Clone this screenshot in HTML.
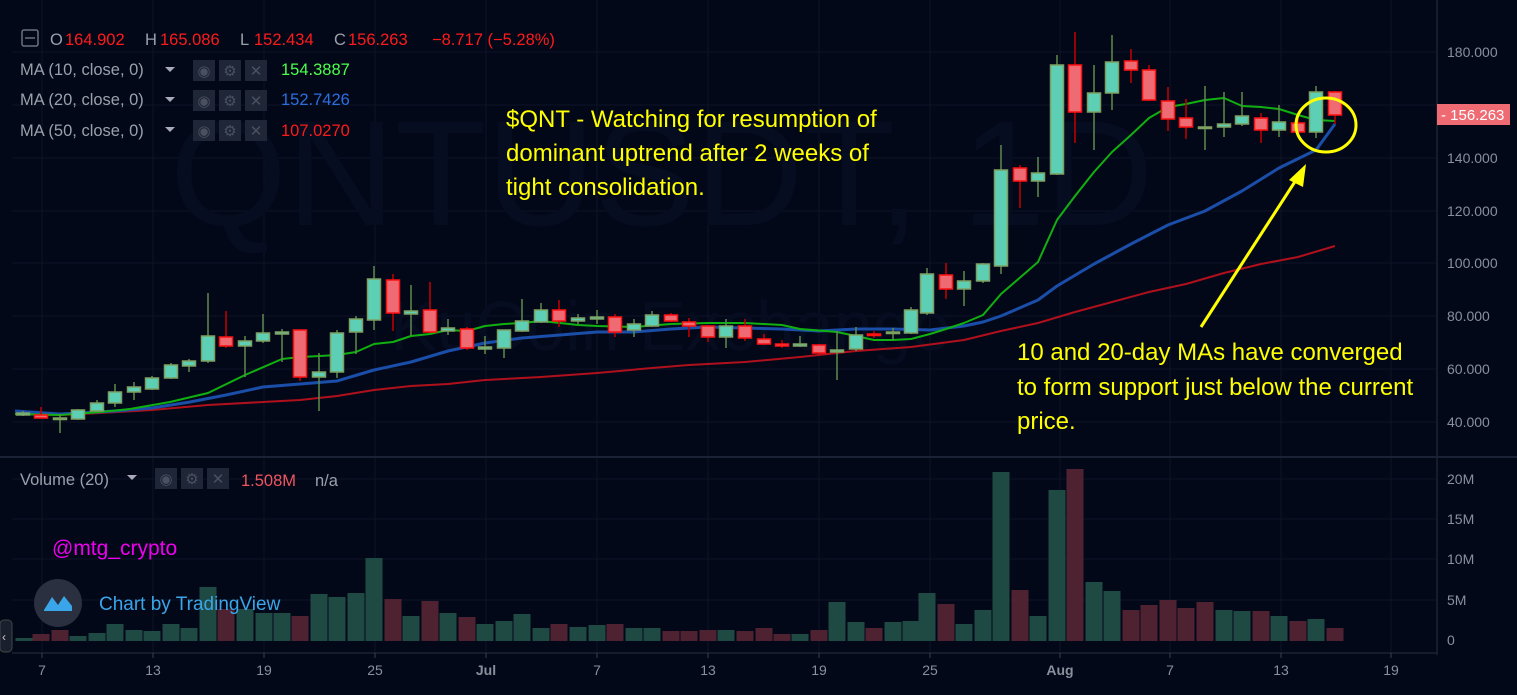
<!DOCTYPE html>
<html><head><meta charset="utf-8"><style>
html,body{margin:0;padding:0;background:#030819;width:1517px;height:695px;overflow:hidden}
svg{display:block}
text{font-family:"Liberation Sans",sans-serif}
</style></head><body>
<svg id="s" width="1517" height="695" xmlns="http://www.w3.org/2000/svg">
<rect width="1517" height="695" fill="#030819"/>
<g id="grid"></g>
<text x="170" y="225" font-size="150" fill="#070d21" font-family="Liberation Sans">QNTUSDT, 1D</text>
<text x="390" y="350" font-size="70" fill="#070d21">KuCoin Exchange</text>
<g id="vol"></g>
<g id="ma"></g>
<g id="cd"></g>
<line x1="0" y1="457" x2="1517" y2="457" fill="none" stroke="#1c2236" stroke-width="2"/>
<line x1="1437" y1="0" x2="1437" y2="655" stroke="#1c2236" stroke-width="1.5"/>
<line x1="12" y1="653" x2="1437" y2="653" stroke="#1c2236" stroke-width="1.5"/>
<g id="axis" font-size="14" fill="#8a8f9c"></g>
<rect x="1437" y="104" width="73" height="21" fill="#ee6b73"/>
<text x="1441" y="120" font-size="15" fill="#fff">- 156.263</text>
<rect x="22" y="30" width="16" height="16" fill="none" stroke="#6b7080" stroke-width="1.5" rx="2"/>
<line x1="25" y1="38" x2="35" y2="38" stroke="#6b7080" stroke-width="1.5"/>
<g font-size="16.5">
<text x="50" y="45" fill="#9aa0ab">O</text><text x="65" y="45" fill="#ff1a1a">164.902</text>
<text x="145" y="45" fill="#9aa0ab">H</text><text x="160" y="45" fill="#ff1a1a">165.086</text>
<text x="240" y="45" fill="#9aa0ab">L</text><text x="254" y="45" fill="#ff1a1a">152.434</text>
<text x="334" y="45" fill="#9aa0ab">C</text><text x="348" y="45" fill="#ff1a1a">156.263</text>
<text x="432" y="45" fill="#ff1a1a">−8.717 (−5.28%)</text>
<text x="20" y="75" fill="#9aa0ab">MA (10, close, 0)</text><text x="281" y="75" fill="#4cff4c">154.3887</text>
<text x="20" y="105" fill="#9aa0ab">MA (20, close, 0)</text><text x="281" y="105" fill="#2a6fe0">152.7426</text>
<text x="20" y="136" fill="#9aa0ab">MA (50, close, 0)</text><text x="281" y="136" fill="#ff1a1a">107.0270</text>
<text x="20" y="485" fill="#9aa0ab">Volume (20)</text><text x="241" y="486" fill="#ee5560">1.508M</text><text x="315" y="486" fill="#9aa0ab">n/a</text>
</g>
<g id="icons"></g>
<text x="52" y="555" font-size="21" fill="#ee00ee">@mtg_crypto</text>
<circle cx="58" cy="603" r="24" fill="#2a3040"/>
<path d="M44 610 L52 597 L58 605 L64 596 L72 606 L72 611 L44 611 Z" fill="#3aa5e8"/>
<text x="99" y="610" font-size="19" fill="#3aa5e8">Chart by TradingView</text>
<rect x="0" y="620" width="12" height="32" rx="4" fill="#1a1f2e" stroke="#444"/>
<text x="2" y="641" font-size="12" fill="#ccc">‹</text>
<g font-size="24" fill="#ffff00">
<text x="506" y="127">$QNT - Watching for resumption of</text>
<text x="506" y="161">dominant uptrend after 2 weeks of</text>
<text x="506" y="195">tight consolidation.</text>
<text x="1017" y="360">10 and 20-day MAs have converged</text>
<text x="1017" y="395">to form support just below the current</text>
<text x="1017" y="429">price.</text>
</g>
<line x1="1201" y1="327" x2="1296" y2="180" stroke="#ffff00" stroke-width="3"/>
<polygon points="1306,164 1289,180 1303,187" fill="#ffff00"/>
<ellipse cx="1326" cy="125" rx="30" ry="27" fill="none" stroke="#ffff00" stroke-width="3"/>
</svg>
<script>
const NS="http://www.w3.org/2000/svg";
function el(p,t,a){const e=document.createElementNS(NS,t);for(const k in a)e.setAttribute(k,a[k]);document.getElementById(p).appendChild(e);return e;}
[52,105,158,211,263,316,369,422].forEach(y=>el("grid","line",{x1:12,x2:1437,y1:y,y2:y,stroke:"#0d1426","stroke-width":1}));
[479,519,559,600].forEach(y=>el("grid","line",{x1:12,x2:1437,y1:y,y2:y,stroke:"#0d1426","stroke-width":1}));
const xt=[[42,"7"],[153,"13"],[264,"19"],[375,"25"],[486,"Jul"],[597,"7"],[708,"13"],[819,"19"],[930,"25"],[1060,"Aug"],[1170,"7"],[1281,"13"],[1391,"19"]];
xt.forEach(([x,l])=>{el("grid","line",{x1:x,x2:x,y1:0,y2:653,stroke:"#0d1426","stroke-width":1});
 el("axis","line",{x1:x,x2:x,y1:653,y2:658,stroke:"#3a4050"});
 const t=el("axis","text",{x:x,y:675,"text-anchor":"middle","font-weight":(l=="Jul"||l=="Aug")?"bold":"normal"});t.textContent=l;});
[[52,"180.000"],[158,"140.000"],[211,"120.000"],[263,"100.000"],[316,"80.000"],[369,"60.000"],[422,"40.000"]].forEach(([y,l])=>{const t=el("axis","text",{x:1447,y:y+5});t.textContent=l;});
[[479,"20M"],[519,"15M"],[559,"10M"],[600,"5M"],[640,"0"]].forEach(([y,l])=>{const t=el("axis","text",{x:1447,y:y+5});t.textContent=l;});
[[70],[100],[130],[478]].forEach(([y])=>{const sx=y==478?155:193;for(let i=0;i<3;i++)el("icons","rect",{x:sx+i*26,y:y-10,width:22,height:21,fill:"#1f2638"});
 const g=["◉","⚙","✕"];for(let i=0;i<3;i++){const t=el("icons","text",{x:sx+i*26+11,y:y+6,"text-anchor":"middle","font-size":15,fill:"#4a5060"});t.textContent=g[i];}
 el("icons","polygon",{points:(sx-28)+","+(y-3)+" "+(sx-18)+","+(y-3)+" "+(sx-23)+","+(y+2),fill:"#aab"});});
const C=[[23,415,413,411,416],[41,415,418,407,418],[60,418,418,414,433],[78,419,410,409,420],[97,411,403,400,412],[115,403,392,384,407],[134,392,387,382,400],[152,389,378,376,390],[171,378,365,363,379],[189,366,361,359,372],[208,361,336,293,363],[226,337,346,311,348],[245,346,341,336,377],[263,341,333,314,343],[282,334,332,329,362],[300,330,377,330,381],[319,377,372,353,411],[337,372,333,330,378],[356,332,319,316,354],[374,320,279,266,330],[393,280,313,274,331],[411,314,311,285,336],[430,310,332,282,333],[448,331,328,319,335],[467,329,348,327,350],[485,349,347,336,354],[504,348,330,330,358],[522,331,321,299,332],[541,322,310,303,323],[559,310,321,300,327],[578,321,318,314,324],[597,319,317,310,324],[615,317,332,314,337],[634,330,324,319,337],[652,326,315,311,327],[671,315,321,313,322],[689,322,326,318,337],[708,326,337,325,342],[726,337,326,319,348],[745,326,338,319,341],[764,339,344,334,345],[782,344,346,340,348],[800,346,344,336,347],[819,345,353,344,354],[837,352,350,331,380],[856,349,335,327,351],[874,334,335,331,338],[893,333,332,328,340],[911,333,310,307,334],[927,313,274,268,315],[946,275,289,263,299],[964,289,281,271,306],[983,281,264,263,283],[1001,266,170,145,274],[1020,168,181,165,208],[1038,181,173,157,197],[1057,174,65,55,175],[1075,65,112,32,143],[1094,112,93,65,150],[1112,93,62,35,110],[1131,61,70,49,83],[1149,70,100,65,101],[1168,101,119,87,131],[1186,118,127,99,139],[1205,127,127,86,150],[1224,127,124,92,137],[1242,124,116,92,126],[1261,118,130,113,143],[1279,130,122,105,137],[1298,123,132,114,133],[1316,132,92,86,138],[1335,92,115,91,124]];
C.forEach(([x,o,c,h,l])=>{const up=c<=o;const wc=up?"#5f8a4c":"#c40000";
 el("cd","line",{x1:x,x2:x,y1:h,y2:l,stroke:wc,"stroke-width":1.5});
 const top=Math.min(o,c),bh=Math.max(Math.abs(o-c),1.5);
 el("cd","rect",{x:x-6.5,y:top,width:13,height:bh,fill:up?"#5ccfb5":"#ee6b73",stroke:up?"#7ea060":"#ff1010","stroke-width":1.5});});
const V=[[24,638,1],[41,634,0],[60,630,0],[78,636,1],[97,633,1],[115,624,1],[134,630,1],[152,631,1],[171,624,1],[189,628,1],[208,587,1],[226,609,0],[245,609,1],[264,613,1],[282,613,1],[300,616,0],[319,594,1],[337,597,1],[356,593,1],[374,558,1],[393,599,0],[411,616,1],[430,601,0],[448,613,1],[467,617,0],[485,624,1],[504,621,1],[522,614,1],[541,628,1],[559,624,0],[578,627,1],[597,625,1],[615,624,0],[634,628,1],[652,628,1],[671,631,0],[689,631,0],[708,630,0],[726,630,1],[745,631,0],[764,628,0],[782,634,0],[800,634,1],[819,630,0],[837,602,1],[856,622,1],[874,628,0],[893,622,1],[911,621,1],[927,593,1],[946,604,0],[964,624,1],[983,610,1],[1001,472,1],[1020,590,0],[1038,616,1],[1057,490,1],[1075,469,0],[1094,582,1],[1112,591,1],[1131,610,0],[1149,605,0],[1168,600,0],[1186,608,0],[1205,602,0],[1224,610,1],[1242,611,1],[1261,611,0],[1279,616,1],[1298,621,0],[1316,619,1],[1335,628,0]];
V.forEach(([x,t,u])=>el("vol","rect",{x:x-8.5,y:t,width:17,height:641-t,fill:u?"#1f4a44":"#4f2232"}));
function pl(pts,col,w){el("ma","polyline",{points:pts.map(p=>p.join(",")).join(" "),fill:"none",stroke:col,"stroke-width":w,"stroke-linejoin":"round"});}
pl([[15,414],[60,415],[100,413],[152,410],[208,405],[263,402],[300,400],[337,396],[374,390],[411,386],[448,384],[485,380],[541,377],[597,373],[652,368],[689,365],[745,362],[800,357],[856,351],[911,347],[964,340],[1001,331],[1038,323],[1075,312],[1112,302],[1149,292],[1186,284],[1224,273],[1261,264],[1298,257],[1335,246]],"#b0101c",2);
pl([[15,411],[60,414],[115,411],[152,408],[190,402],[226,395],[263,387],[300,384],[337,381],[374,370],[411,362],[448,351],[485,343],[522,338],[560,335],[597,332],[634,332],[671,329],[708,327],[745,328],[782,329],[819,331],[856,329],[893,329],[930,330],[964,326],[983,322],[1001,316],[1038,300],[1057,286],[1094,264],[1131,244],[1168,225],[1205,211],[1242,191],[1279,168],[1316,150],[1335,124]],"#1a4ea8",3);
pl([[15,414],[60,415],[100,412],[130,409],[170,402],[208,393],[245,375],[282,359],[300,357],[320,356],[337,355],[356,352],[374,344],[393,342],[411,336],[430,334],[448,330],[467,331],[485,326],[504,324],[522,323],[541,321],[560,323],[578,325],[597,326],[634,327],[671,324],[708,323],[745,323],[782,325],[800,329],[837,332],[856,336],[874,340],[893,340],[911,339],[930,334],[946,329],[964,323],[983,315],[1001,294],[1038,262],[1057,220],[1075,196],[1094,172],[1112,152],[1131,135],[1149,118],[1168,107],[1186,104],[1205,100],[1224,98],[1242,106],[1261,107],[1279,109],[1298,115],[1316,120],[1335,121]],"#10b010",2);
</script>
</body></html>
